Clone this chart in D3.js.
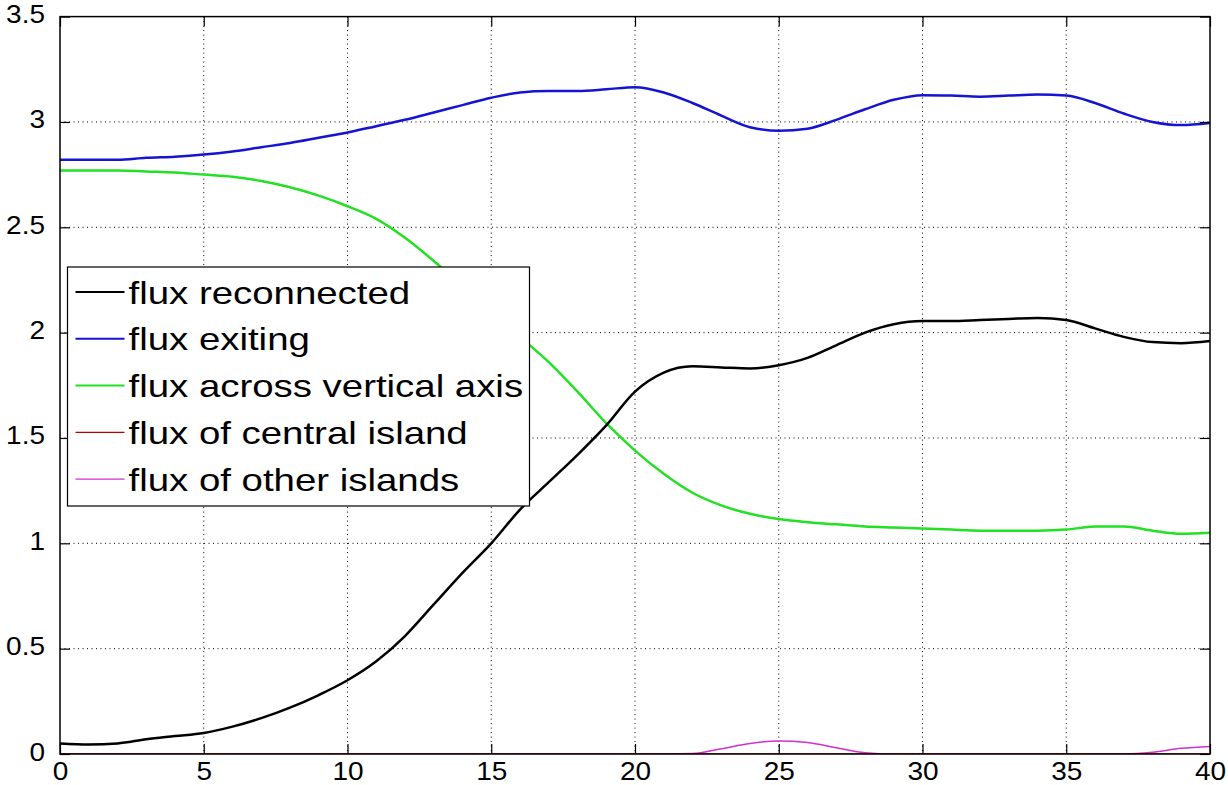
<!DOCTYPE html>
<html>
<head>
<meta charset="utf-8">
<script src="https://cdn.jsdelivr.net/npm/d3@7"></script>
<style>
  body { margin: 0; background: #fff; }
  svg { display: block; font-family: "Liberation Sans", Arial, sans-serif; }
  .grid line { stroke: #000; stroke-dasharray: 1 3.5; stroke-width: 1; }
</style>
</head>
<body>
<svg id="chart" width="1228" height="785"></svg>
<script>
// time axis
const time = [0,1,2,3,4,5,6,7,8,9,10,11,12,13,14,15,16,17,18,19,20,
              21,22,23,24,25,26,27,28,29,30,31,32,33,34,35,36,37,38,39,40];

const fluxReconnected = [0.05,0.045,0.05,0.07,0.085,0.10,0.13,0.17,0.22,0.28,0.35,
                         0.44,0.56,0.71,0.86,1.00,1.16,1.29,1.42,1.56,1.72,
                         1.81,1.84,1.835,1.83,1.845,1.88,1.94,2.00,2.04,2.055,
                         2.055,2.06,2.065,2.07,2.06,2.02,1.98,1.955,1.95,1.96];

const fluxExiting = [2.82,2.82,2.82,2.83,2.835,2.845,2.86,2.88,2.90,2.925,2.95,
                     2.98,3.01,3.045,3.08,3.115,3.14,3.147,3.147,3.155,3.165,
                     3.14,3.09,3.03,2.975,2.958,2.968,3.01,3.06,3.105,3.127,
                     3.125,3.12,3.125,3.13,3.125,3.09,3.04,3.00,2.985,2.995];

const fluxAcross = [2.77,2.77,2.77,2.765,2.76,2.75,2.74,2.72,2.69,2.65,2.60,
                    2.54,2.45,2.34,2.22,2.10,1.98,1.86,1.72,1.57,1.44,
                    1.33,1.24,1.18,1.14,1.115,1.10,1.09,1.08,1.075,1.07,
                    1.065,1.06,1.06,1.06,1.065,1.08,1.08,1.06,1.045,1.05];

const fluxCentral = time.map(() => 0);

const fluxOther = [0,0,0,0,0,0,0,0,0,0,0,
                   0,0,0,0,0,0,0,0,0,0,
                   0,0.002,0.025,0.05,0.062,0.055,0.03,0.006,0,0,
                   0,0,0,0,0,0,0,0.008,0.027,0.036];

const xTicks = [0,5,10,15,20,25,30,35,40];
const yTicks = [0,0.5,1,1.5,2,2.5,3,3.5];

const series = [
  {name: "flux reconnected", values: fluxReconnected, color: "#000000", width: 2.5},
  {name: "flux exiting", values: fluxExiting, color: "#1414d2", width: 2.5},
  {name: "flux across vertical axis", values: fluxAcross, color: "#22e022", width: 2.5},
  {name: "flux of central island", values: fluxCentral, color: "#c00000", width: 1.5},
  {name: "flux of other islands", values: fluxOther, color: "#d030d0", width: 1.5}
];

const svg = d3.select("#chart");
const mLeft = 60, mRight = 1210, mTop = 16.6, mBottom = 754;
const tickStretch = 1.12, legendStretch = 1.2; // text in the figure is wider than it is tall

const x = d3.scaleLinear().domain([0, 40]).range([mLeft, mRight]);
const y = d3.scaleLinear().domain([0, 3.5]).range([mBottom, mTop]);

// grid
const grid = svg.append("g").attr("class", "grid");
grid.selectAll(".gx")
    .data(xTicks.slice(1, -1))
    .join("line")
    .attr("x1", d => x(d)).attr("x2", d => x(d))
    .attr("y1", mTop).attr("y2", mBottom);
grid.selectAll(".gy")
    .data(yTicks.slice(1, -1))
    .join("line")
    .attr("y1", d => y(d)).attr("y2", d => y(d))
    .attr("x1", mLeft).attr("x2", mRight);

svg.append("clipPath").attr("id", "clip")
    .append("rect")
    .attr("x", mLeft).attr("y", mTop)
    .attr("width", mRight - mLeft).attr("height", mBottom - mTop);

const line = (vals) => d3.line()
    .x((d, i) => x(time[i]))
    .y(d => y(d))
    .curve(d3.curveMonotoneX)(vals);

svg.append("g").attr("clip-path", "url(#clip)")
    .selectAll("path")
    .data(series.slice().reverse())
    .join("path")
    .attr("fill", "none")
    .attr("stroke", d => d.color)
    .attr("stroke-width", d => d.width)
    .attr("stroke-linejoin", "round")
    .attr("d", d => line(d.values));

// axes with inward ticks on all four sides
const tickLen = 10;
const axisStyle = g => {
  g.select(".domain").remove();
  g.selectAll(".tick line").attr("stroke", "#000").attr("stroke-width", 1.2);
  g.selectAll(".tick text").attr("font-size", 25).attr("fill", "#000");
};

svg.append("g")
    .attr("transform", `translate(0,${mBottom})`)
    .call(d3.axisBottom(x).tickValues(xTicks).tickSize(-tickLen).tickPadding(8))
    .call(axisStyle)
    .call(g => g.selectAll(".tick text")
        .attr("transform", `scale(${tickStretch},1)`));
svg.append("g")
    .attr("transform", `translate(0,${mTop})`)
    .call(d3.axisTop(x).tickValues(xTicks).tickSize(-tickLen).tickFormat(""))
    .call(axisStyle);
svg.append("g")
    .attr("transform", `translate(${mLeft},0)`)
    .call(d3.axisLeft(y).tickValues(yTicks).tickSize(-tickLen).tickFormat(d => d3.format("")(d)))
    .call(axisStyle)
    .call(g => g.selectAll(".tick text")
        .attr("x", 0)
        .attr("transform", `translate(-15,-2) scale(${tickStretch},1)`));
svg.append("g")
    .attr("transform", `translate(${mRight},0)`)
    .call(d3.axisRight(y).tickValues(yTicks).tickSize(-tickLen).tickFormat(""))
    .call(axisStyle);

svg.append("rect")
    .attr("x", mLeft).attr("y", mTop)
    .attr("width", mRight - mLeft).attr("height", mBottom - mTop)
    .attr("fill", "none").attr("stroke", "#000").attr("stroke-width", 1.5);

// legend
const lg = svg.append("g").attr("transform", "translate(67.5,267)");
lg.append("rect")
    .attr("width", 462).attr("height", 239)
    .attr("fill", "#fff").attr("stroke", "#000").attr("stroke-width", 1.2);
const rows = lg.selectAll(".row")
    .data(series)
    .join("g")
    .attr("transform", (d, i) => `translate(0,${25 + i * 46.8})`);
rows.append("line")
    .attr("x1", 8).attr("x2", 57)
    .attr("stroke", d => d.color)
    .attr("stroke-width", d => d.width === 2.5 ? 2 : 1.2);
rows.append("text")
    .attr("transform", `translate(61,0) scale(${legendStretch},1)`)
    .attr("dy", "0.36em")
    .attr("font-size", 32)
    .text(d => d.name);
</script>
</body>
</html>
